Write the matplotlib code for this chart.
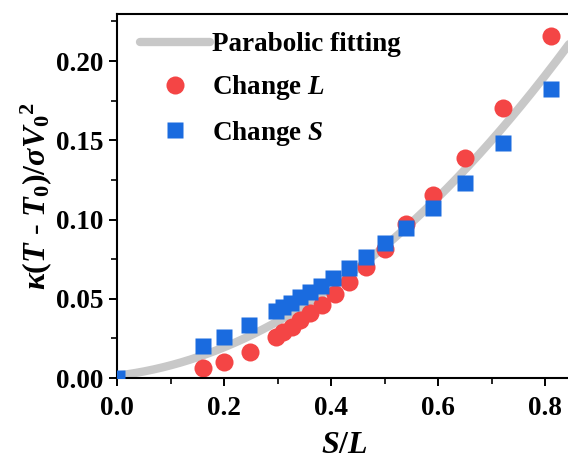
import numpy as np
import matplotlib
matplotlib.use("Agg")
import matplotlib.pyplot as plt
from matplotlib.ticker import MultipleLocator, FormatStrFormatter

# ---- data ----
red_x = [0.160, 0.200, 0.249, 0.297, 0.311, 0.327, 0.342, 0.361, 0.384, 0.408,
         0.434, 0.465, 0.500, 0.541, 0.590, 0.650, 0.722, 0.812]
red_y = [0.0061, 0.0099, 0.0166, 0.0261, 0.0292, 0.0324, 0.0366, 0.0408, 0.0460, 0.0528,
         0.0608, 0.0698, 0.0814, 0.0970, 0.1155, 0.1388, 0.1703, 0.2158]
blue_x = [0.000, 0.160, 0.200, 0.247, 0.297, 0.310, 0.325, 0.342, 0.361, 0.381,
          0.404, 0.434, 0.465, 0.500, 0.541, 0.590, 0.650, 0.721, 0.812]
blue_y = [0.0000, 0.0202, 0.0261, 0.0334, 0.0423, 0.0446, 0.0475, 0.0509, 0.0540, 0.0580,
          0.0629, 0.0692, 0.0761, 0.0850, 0.0944, 0.1070, 0.1228, 0.1480, 0.1823]
# parabolic fit coefficients y = c0 + c1*x + c2*x^2
fit_coef = [0.0015, 0.0403, 0.2453]
x_ticks = [0.0, 0.2, 0.4, 0.6, 0.8]
y_ticks = [0.00, 0.05, 0.10, 0.15, 0.20]
labels = ["Parabolic fitting", r"Change $L$", r"Change $S$"]

plt.rcParams['font.family'] = ['Liberation Serif', 'DejaVu Serif']
plt.rcParams['font.weight'] = 'bold'
plt.rcParams['mathtext.fontset'] = 'custom'
plt.rcParams['mathtext.rm'] = 'Liberation Serif:bold'
plt.rcParams['mathtext.it'] = 'Liberation Serif:italic:bold'
plt.rcParams['mathtext.bf'] = 'Liberation Serif:bold'

FS = 19.5
W, H = 568, 462
fig = plt.figure(figsize=(W / 100, H / 100), dpi=100)
xmax = 0.85
ax = fig.add_axes([117 / W, (H - 378) / H, xmax * 535 / W, (378 - 14) / H])

xf = np.linspace(0, xmax, 300)
yf = fit_coef[0] + fit_coef[1] * xf + fit_coef[2] * xf ** 2
ax.plot(xf, yf, color='#C8C8C8', lw=6, solid_capstyle='round', label=labels[0], zorder=1)
ax.plot(red_x, red_y, 'o', color='#F44545', ms=13, mec='none', label=labels[1], zorder=2)
ax.plot(blue_x, blue_y, 's', color='#1A6BDF', ms=11.5, mec='none', label=labels[2], zorder=3)

ax.set_xlim(0, xmax)
ax.set_ylim(0, 0.2297)
ax.set_xticks(x_ticks)
ax.set_yticks(y_ticks)
ax.xaxis.set_minor_locator(MultipleLocator(0.1))
ax.yaxis.set_minor_locator(MultipleLocator(0.025))
ax.xaxis.set_major_formatter(FormatStrFormatter('%.1f'))
ax.yaxis.set_major_formatter(FormatStrFormatter('%.2f'))
ax.tick_params(which='major', direction='out', length=6, width=1.4, labelsize=FS, pad=7)
ax.tick_params(which='minor', direction='out', length=4, width=1.2)
ax.tick_params(axis='y', which='major', pad=4)
ax.tick_params(top=False, right=False)
for s in ax.spines.values():
    s.set_linewidth(1.5)
ax.spines['right'].set_visible(False)

ax.set_xlabel(r"$S/L$", fontsize=23, labelpad=7)
ax.set_ylabel(r"$\kappa(T$ - $T_0)/\sigma V_0{}^2$", fontsize=23, labelpad=1)

leg = ax.legend(loc='upper left', frameon=False, fontsize=FS, handlelength=2.6,
                handletextpad=0.05, labelspacing=0.6, borderaxespad=0.2,
                bbox_to_anchor=(0.015, 0.995))

fig.savefig("out.png", dpi=100)
